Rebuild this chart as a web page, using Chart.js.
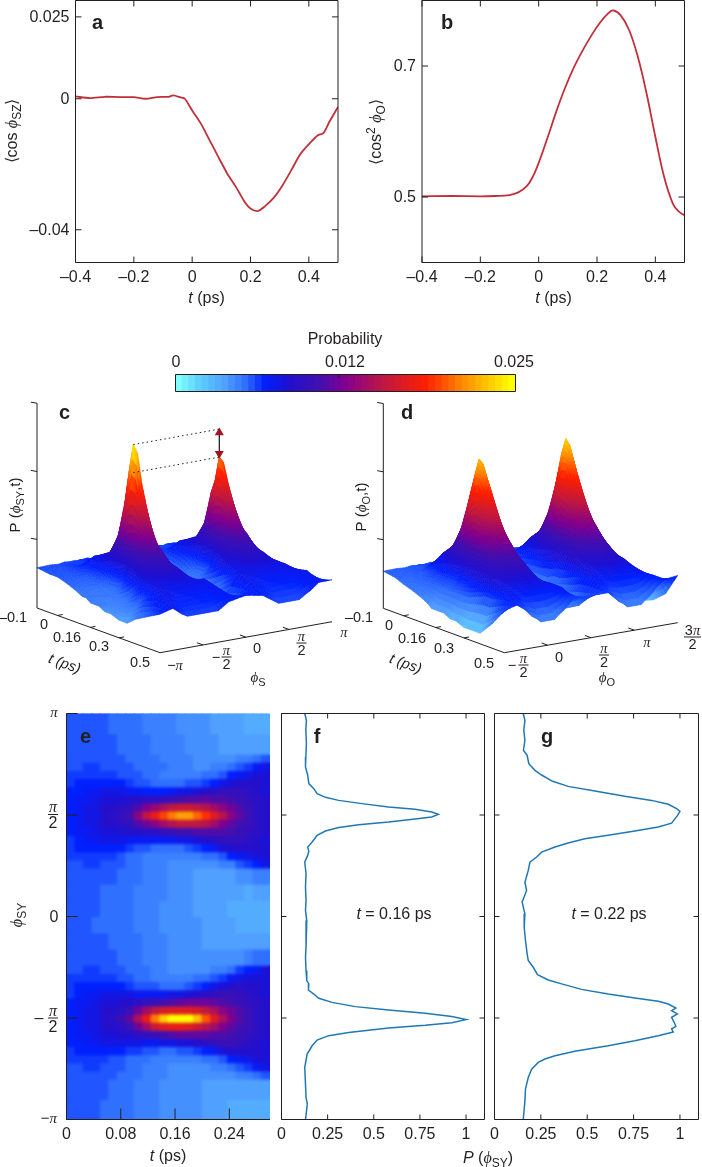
<!DOCTYPE html>
<html>
<head>
<meta charset="utf-8">
<style>
  html, body { margin: 0; padding: 0; background: #fff; }
  body { position: relative; width: 702px; height: 1167px; overflow: hidden; }
  canvas { position: absolute; }
</style>
<script src="https://cdn.jsdelivr.net/npm/chart.js@4"></script>
</head>
<body>
<script>
// panel a, b
const aTimes = [-0.4,-0.35,-0.3,-0.25,-0.2,-0.16,-0.12,-0.08,-0.065,-0.04,-0.025,0,0.03,0.06,0.09,0.12,0.15,0.18,0.2,0.225,0.25,0.28,0.31,0.34,0.37,0.4,0.43,0.45,0.47,0.5];
const aCos = [0.0007,0.0002,0.0006,0.0005,0.0005,0,0.0005,0.0006,0.001,0.0004,0,-0.0036,-0.0076,-0.0127,-0.0178,-0.0228,-0.0269,-0.0315,-0.0335,-0.0343,-0.0328,-0.0302,-0.0264,-0.0218,-0.017,-0.0139,-0.0112,-0.0105,-0.0071,-0.0025];
const bTimes = [-0.4,-0.3,-0.2,-0.15,-0.1,-0.07,-0.04,-0.02,0,0.03,0.06,0.09,0.12,0.15,0.18,0.21,0.24,0.255,0.28,0.31,0.34,0.37,0.4,0.43,0.46,0.48,0.5];
const bCos2 = [0.501,0.5015,0.501,0.5015,0.503,0.507,0.517,0.531,0.552,0.59,0.63,0.666,0.697,0.723,0.746,0.766,0.781,0.785,0.778,0.755,0.714,0.658,0.592,0.531,0.49,0.478,0.472];

// panel f, g: phi in units of pi
const fPhi = [1,0.967,0.918,0.852,0.786,0.737,0.696,0.655,0.63,0.605,0.587,0.572,0.556,0.539,0.528,0.515,0.503,0.49,0.48,0.465,0.452,0.438,0.421,0.4,0.367,0.342,0.322,0.301,0.268,0.211,0.145,0.079,0.03,-0.02,-0.086,-0.151,-0.201,-0.266,-0.316,-0.332,-0.362,-0.382,-0.403,-0.423,-0.444,-0.461,-0.477,-0.493,-0.508,-0.523,-0.536,-0.549,-0.571,-0.587,-0.609,-0.637,-0.678,-0.743,-0.826,-0.891,-0.924,-1];
const fProb = [0.126,0.135,0.132,0.135,0.132,0.13,0.142,0.148,0.175,0.193,0.238,0.31,0.436,0.58,0.724,0.814,0.85,0.814,0.724,0.58,0.418,0.31,0.238,0.193,0.166,0.142,0.148,0.142,0.126,0.133,0.13,0.133,0.13,0.137,0.133,0.133,0.13,0.133,0.137,0.148,0.146,0.175,0.202,0.274,0.4,0.58,0.778,0.923,1,0.923,0.778,0.58,0.364,0.256,0.193,0.166,0.139,0.126,0.13,0.133,0.14,0.13];
const gPhi = [1,0.967,0.918,0.868,0.819,0.794,0.753,0.72,0.697,0.666,0.641,0.618,0.592,0.572,0.553,0.531,0.518,0.498,0.46,0.441,0.421,0.4,0.383,0.362,0.342,0.317,0.293,0.268,0.227,0.169,0.128,0.071,0.013,-0.053,-0.118,-0.184,-0.217,-0.25,-0.286,-0.313,-0.332,-0.359,-0.382,-0.401,-0.418,-0.431,-0.451,-0.464,-0.48,-0.497,-0.52,-0.541,-0.553,-0.569,-0.587,-0.612,-0.637,-0.664,-0.686,-0.702,-0.719,-0.752,-0.793,-0.85,-0.908,-1];
const gProb = [0.155,0.164,0.158,0.164,0.156,0.176,0.185,0.218,0.254,0.313,0.397,0.541,0.703,0.847,0.937,0.982,1,0.987,0.955,0.883,0.757,0.613,0.487,0.397,0.326,0.254,0.227,0.191,0.182,0.164,0.173,0.149,0.164,0.16,0.167,0.176,0.182,0.209,0.232,0.29,0.362,0.469,0.613,0.757,0.883,0.937,0.978,0.955,0.986,0.955,0.968,0.978,0.955,0.964,0.883,0.757,0.613,0.433,0.326,0.272,0.236,0.2,0.182,0.167,0.164,0.155];

// probability is kept in units of 0.0005, so 50 = 0.025
const colorbarLevels = [0,1,2,3,4,5,6,7,8,9,10,11,12,13,14,15,16,17,18,19,20,21,22,23,24,25,26,27,28,29,30,31,32,33,34,35,36,37,38,39,40,41,42,43,44,45,46,47,48,49,50];

// panel e
const heatTimes = [0.006,0.019,0.031,0.044,0.056,0.069,0.081,0.094,0.106,0.119,0.131,0.144,0.156,0.169,0.181,0.194,0.206,0.219,0.231,0.244,0.256,0.269,0.281,0.294];
const heatPhiEdges = [1,0.9,0.8,0.76,0.72,0.68,0.64,0.6,0.56,0.52,0.48,0.44,0.4,0.36,0.32,0.28,0.24,0.16,0.08,0,-0.08,-0.16,-0.24,-0.28,-0.32,-0.36,-0.4,-0.44,-0.48,-0.52,-0.56,-0.6,-0.64,-0.68,-0.72,-0.76,-0.8,-0.9,-1];
const heatValues = [
  [11,11,11,11,11,10,10,10,10,9,9,9,9,8,8,8,8,7,7,7,7,6,6,6],
  [11,11,11,11,11,11,10,10,10,10,9,9,9,9,8,8,8,8,7,7,7,7,7,7],
  [11,11,11,11,11,11,11,10,10,10,10,9,9,9,9,8,8,8,8,8,9,9,10,11],
  [11,11,12,12,11,11,11,11,10,10,10,10,9,9,9,8,8,9,9,10,11,12,14,15],
  [12,12,12,12,12,12,11,11,11,10,10,9,9,9,9,9,10,10,11,13,14,15,16,16],
  [12,13,13,13,13,13,13,12,11,11,10,10,10,10,11,11,12,13,15,16,17,17,17,16],
  [13,13,14,14,15,15,15,14,14,13,13,13,14,15,15,16,17,18,19,19,19,18,17,16],
  [13,14,14,15,16,16,16,17,17,18,18,19,20,21,22,22,23,22,22,21,20,19,18,17],
  [13,14,15,15,17,17,18,19,22,25,27,29,31,32,32,31,30,28,26,24,22,20,18,17],
  [13,14,15,15,17,18,19,21,26,31,35,39,42,44,44,41,38,34,30,26,23,20,18,17],
  [13,14,15,15,17,17,18,19,22,24,26,28,30,31,31,31,30,28,25,23,21,20,18,17],
  [13,14,14,15,16,16,16,17,17,18,18,19,20,21,21,22,22,22,22,21,20,19,18,17],
  [12,13,14,14,15,15,15,14,14,14,14,14,14,15,15,16,17,18,19,19,19,18,17,16],
  [12,13,13,13,13,13,13,12,11,11,10,10,10,10,11,12,13,14,16,17,17,17,17,16],
  [12,12,12,12,12,12,11,10,10,9,9,9,9,9,9,9,10,10,11,13,14,15,16,16],
  [11,11,12,12,11,11,11,10,10,9,9,9,8,8,8,8,8,8,9,9,11,12,13,15],
  [11,11,11,11,11,11,10,10,10,9,9,9,8,8,8,7,7,7,7,7,8,8,9,9],
  [11,11,11,11,10,10,10,10,9,9,9,9,8,8,8,7,7,7,7,7,7,6,7,7],
  [11,11,11,11,10,10,10,10,9,9,9,8,8,8,8,7,7,7,7,6,6,6,6,6],
  [11,11,11,10,10,10,10,10,9,9,9,8,8,8,8,8,7,7,7,7,6,6,6,6],
  [11,11,11,11,11,10,10,10,10,9,9,9,8,8,8,8,7,7,7,7,7,7,7,7],
  [11,11,11,11,11,11,10,10,10,9,9,9,8,8,8,8,8,8,8,8,8,9,10,10],
  [11,11,12,12,11,11,11,10,10,10,9,9,8,8,8,8,8,9,9,10,12,13,14,16],
  [12,12,12,12,12,12,11,11,10,10,9,9,9,9,9,10,10,11,12,14,15,16,16,16],
  [12,13,13,13,13,13,13,12,11,11,11,10,10,10,11,12,13,15,16,17,18,17,17,16],
  [12,13,14,14,15,15,15,15,14,14,14,14,15,15,16,17,18,19,20,20,19,18,17,16],
  [13,14,14,15,16,16,17,17,18,19,20,21,22,23,24,24,24,23,22,21,20,19,18,17],
  [13,14,15,15,17,17,18,20,24,28,31,33,34,34,34,33,31,29,26,24,22,20,18,17],
  [13,14,15,15,17,18,20,23,29,35,42,47,50,50,50,46,40,34,29,25,22,20,18,17],
  [13,14,15,15,17,17,18,20,24,28,32,34,35,35,34,32,30,28,25,23,21,20,18,17],
  [13,14,14,15,16,16,17,17,18,19,20,21,22,23,23,23,23,22,22,21,20,19,18,17],
  [13,13,14,14,15,15,15,15,15,14,14,15,15,16,16,17,18,19,20,20,19,18,17,16],
  [12,13,13,13,13,13,13,12,12,11,11,10,10,11,11,12,13,14,16,17,17,17,17,16],
  [12,12,12,12,12,11,11,10,10,10,9,9,9,9,9,9,10,10,11,13,14,15,16,16],
  [11,11,12,12,11,11,11,10,10,9,9,9,8,8,8,8,8,9,9,10,11,12,14,15],
  [11,11,11,11,11,11,10,10,10,9,9,9,8,8,8,8,8,8,8,8,9,9,10,11],
  [11,11,11,11,11,10,10,10,9,9,9,8,8,8,8,8,7,7,7,7,7,7,7,7],
  [11,11,11,11,10,10,10,10,9,9,9,8,8,8,8,8,7,7,7,6,6,6,6,6]
];

// panel c, d surfaces
const surfTimes = [-0.1,-0.04,0,0.05,0.09,0.12,0.14,0.16,0.18,0.2,0.23,0.26,0.3,0.34,0.38,0.44,0.5];
const cPhi = [-1,-0.85,-0.75,-0.68,-0.62,-0.58,-0.54,-0.5,-0.46,-0.42,-0.38,-0.32,-0.2,0,0.2,0.32,0.38,0.42,0.46,0.5,0.54,0.58,0.62,0.68,0.75,0.85,1];
const cValues = [
  [11.5,11.6,11.4,11.7,11.5,11.6,11.4,11.6,11.5,11.7,11.4,11.6,11.5,11.6,11.4,11.7,11.5,11.6,11.3,11.6,11.5,11.6,11.4,11.7,11.5,11.6,11.4],
  [11,11,12,12,12,12,13,13,13,12,12,12,11,11,11,12,12,12,13,13,13,12,12,12,12,11,11],
  [11,11,12,13,14,15,15,15,15,15,14,13,11,11,11,13,14,15,15,15,15,15,14,13,12,11,11],
  [10,10,11,13,15,16,16,17,16,16,15,13,10,10,10,13,15,16,16,17,16,16,15,13,11,10,10],
  [9,9,10,12,15,17,20,23,20,17,15,12,9,9,9,12,15,17,19,22,19,17,15,12,10,9,9],
  [8,8,9,10,14,18,25,33,25,18,14,10,8,8,8,10,14,18,24,31,24,18,14,10,9,8,8],
  [8,8,8,10,14,20,30,42,30,20,14,10,8,8,8,10,14,20,28,35,28,20,14,10,8,8,8],
  [7,8,8,10,15,22,33,50,33,22,15,10,8,7,8,10,15,21,31,42,31,21,15,10,8,8,7],
  [7,7,8,11,16,23,33,48,33,23,16,11,8,7,8,11,16,22,31,41,31,22,16,11,8,7,7],
  [7,7,8,13,18,24,31,40,31,24,18,13,8,7,8,13,18,23,30,36,30,23,18,13,8,7,7],
  [6,7,9,15,20,23,28,32,28,23,20,15,8,6,8,15,20,23,27,30,27,23,20,15,9,7,6],
  [6,7,11,17,20,22,23,24,23,22,20,17,9,6,9,17,20,22,23,24,23,22,20,17,11,7,6],
  [5,8,14,17,18,19,20,20,20,19,18,17,11,5,11,17,18,19,20,20,20,19,18,17,14,8,5],
  [5,11,15,16,16,17,17,17,17,17,16,16,13,6,13,16,16,17,17,17,17,17,16,16,15,11,6],
  [7,13,15,15,15,15,15,15,15,15,15,15,15,8,15,15,15,15,15,15,15,15,15,15,15,13,8],
  [9,14,14,13,13,13,13,13,13,13,13,13,14,10,14,13,13,13,13,13,13,13,13,13,14,14,10],
  [11,12,10,9,9,9,9,9,9,9,9,9,11,12,11,9,8,8,8,8,8,8,8,9,10,12,12]
];
const cTint = [0,0,0,0,0,0,0,0,0,0,0,0,0,0,0,0.5,2];
const dPhi = [-0.5,-0.35,-0.25,-0.18,-0.12,-0.08,-0.04,0,0.04,0.08,0.12,0.18,0.3,0.5,0.7,0.82,0.88,0.92,0.96,1,1.04,1.08,1.12,1.18,1.25,1.35,1.5];
const dValues = [
  [10.6,10.7,10.5,10.8,10.6,10.7,10.5,10.6,10.8,10.5,10.7,10.6,10.8,10.5,10.7,10.6,10.5,10.7,10.6,10.8,10.6,10.5,10.7,10.6,10.8,10.6,10.7],
  [10,10,11,11,12,12,12,12,12,12,12,11,10,10,10,11,12,12,12,12,12,12,12,11,11,10,10],
  [9,10,11,13,14,15,16,16,16,15,14,13,10,9,10,13,14,15,16,16,16,15,14,13,11,10,9],
  [8,10,12,14,16,18,19,20,19,18,16,14,10,8,10,14,16,18,19,20,19,18,16,14,12,10,8],
  [7,10,12,15,18,22,25,27,25,22,18,15,10,7,10,15,18,22,25,27,25,22,18,15,12,10,7],
  [6,10,12,16,20,26,32,35,32,26,20,16,10,6,10,16,20,26,32,36,32,26,20,16,12,10,6],
  [5,10,12,16,22,29,37,41,37,29,22,16,10,6,10,16,22,29,37,43,37,29,22,16,12,10,5],
  [5,10,12,17,24,32,41,46,41,32,24,17,10,6,10,17,24,32,41,47.5,41,32,24,17,12,10,5],
  [5,10,13,18,25,33,41,45,41,33,25,18,10,5,10,18,25,33,41,46,41,33,25,18,13,10,5],
  [5,10,13,19,25,32,38,41,38,32,25,19,10,5,10,19,25,32,38,42,38,32,25,19,13,10,5],
  [4,10,14,19,25,29,33,35,33,29,25,19,11,5,11,19,25,29,33,35,33,29,25,19,14,10,4],
  [4,10,15,20,24,26,28,29,28,26,24,20,11,5,11,20,24,26,28,29,28,26,24,20,15,10,4],
  [3,11,16,19,21,22,23,23,23,22,21,19,12,5,12,19,21,22,23,23,23,22,21,19,16,11,3],
  [3,12,16,17,18,18,19,19,19,18,18,17,13,5,13,17,18,18,19,19,19,18,18,17,16,12,3],
  [3,12,15,15,15,15,16,16,16,15,15,15,14,6,14,15,15,15,16,16,16,15,15,15,15,12,4],
  [7,13,14,13,13,13,13,13,13,13,13,13,14,8,14,13,13,13,13,13,13,13,13,13,14,13,7],
  [12,13,11,9,8,7,7,7,7,7,8,9,12,12,12,9,8,7,7,7,7,7,8,9,11,13,13.5]
];
const dTint = [0,0,0,0,0,0,0,0,0,0,0,0,0,0,0,0,0];
const pTicks3d = [19.6, 39, 58.5];

const SANS = '"Liberation Sans", Arial, sans-serif';
const SERIF = '"Liberation Serif", "DejaVu Serif", serif';
const INK = "#231f20";
const RED = "#c1303a";
const BLUE = "#1f78b4";

const colorStops = [
  [0, 128, 255, 255], [0.06, 96, 208, 255], [0.14, 80, 160, 255], [0.2, 48, 112, 255],
  [0.26, 0, 32, 255], [0.33, 32, 16, 208], [0.42, 64, 16, 176], [0.5, 128, 0, 144],
  [0.62, 192, 24, 64], [0.745, 255, 32, 0], [0.86, 255, 144, 0], [1, 255, 255, 0]
];

function probColor(level) {
  const f = Math.min(1, Math.max(0, level / 50));
  let k = 0;
  while (k < colorStops.length - 2 && f > colorStops[k + 1][0]) k++;
  const a = colorStops[k], b = colorStops[k + 1];
  const w = (f - a[0]) / (b[0] - a[0]);
  const c = [1, 2, 3].map(i => Math.round(a[i] + (b[i] - a[i]) * w));
  return "rgb(" + c.join(",") + ")";
}

// low parts of the surfaces are shaded a bit deeper than their height
function surfaceShade(v) {
  if (v >= 11) return v;
  if (v >= 7) return 9 + (v - 7) * 0.5;
  if (v >= 4.5) return 6.5 + (v - 4.5) * 1;
  if (v >= 3) return 3.5 + (v - 3) * 2;
  return v;
}

// mixed text: n normal, i italic, g italic serif greek, s subscript, u superscript
function drawRuns(ctx, runs, x, y, size, rot) {
  const fontOf = kind => {
    if (kind === "g") return "italic " + size + "px " + SERIF;
    if (kind === "i") return "italic " + size + "px " + SANS;
    if (kind === "s" || kind === "u") return Math.round(size * 0.72) + "px " + SANS;
    if (kind === "b") return "bold " + size + "px " + SANS;
    return size + "px " + SANS;
  };
  ctx.save();
  ctx.translate(x, y);
  ctx.rotate(rot || 0);
  ctx.textAlign = "left";
  ctx.textBaseline = "alphabetic";
  ctx.fillStyle = INK;
  let width = 0;
  runs.forEach(r => { ctx.font = fontOf(r[1]); width += ctx.measureText(r[0]).width; });
  let cur = -width / 2;
  runs.forEach(r => {
    ctx.font = fontOf(r[1]);
    const dy = r[1] === "s" ? size * 0.25 : r[1] === "u" ? -size * 0.4 : 0;
    ctx.fillText(r[0], cur, dy);
    cur += ctx.measureText(r[0]).width;
  });
  ctx.restore();
}

function drawFrac(ctx, x, y, num, den, size, barWidth) {
  ctx.save();
  ctx.strokeStyle = INK;
  ctx.lineWidth = 1;
  ctx.beginPath();
  ctx.moveTo(x - barWidth / 2, y);
  ctx.lineTo(x + barWidth / 2, y);
  ctx.stroke();
  ctx.restore();
  drawRuns(ctx, num, x, y - 2.5, size);
  drawRuns(ctx, [[den, "n"]], x, y + size * 0.85, size);
}

function addChart(box, plot, config, notes) {
  const canvas = document.createElement("canvas");
  canvas.width = box.r - box.l;
  canvas.height = box.b - box.t;
  canvas.style.left = box.l + "px";
  canvas.style.top = box.t + "px";
  document.body.appendChild(canvas);
  config.options = config.options || {};
  config.options.responsive = false;
  config.options.animation = false;
  config.options.events = [];
  config.options.layout = { autoPadding: false, padding: { top: plot.t - box.t, right: box.r - plot.r, left: 0, bottom: 0 } };
  config.options.plugins = Object.assign({ legend: { display: false }, tooltip: { enabled: false } }, config.options.plugins);
  config.plugins = (config.plugins || []).concat([{
    id: "notes",
    afterDraw(chart) {
      const ctx = chart.ctx;
      ctx.save();
      ctx.translate(-box.l, -box.t);
      notes(ctx);
      ctx.restore();
    }
  }]);
  return new Chart(canvas, config);
}

function framePlugin(opts) {
  return {
    id: "frame",
    afterDraw(chart) {
      const { ctx, chartArea: a, scales } = chart;
      const sides = opts.sides || "lrtb";
      const len = opts.tick || 5;
      ctx.save();
      ctx.strokeStyle = INK;
      ctx.lineWidth = 1;
      ctx.beginPath();
      if (sides.includes("l")) { ctx.moveTo(a.left, a.top); ctx.lineTo(a.left, a.bottom); }
      if (sides.includes("r")) { ctx.moveTo(a.right, a.top); ctx.lineTo(a.right, a.bottom); }
      if (sides.includes("t")) { ctx.moveTo(a.left, a.top); ctx.lineTo(a.right, a.top); }
      if (sides.includes("b")) { ctx.moveTo(a.left, a.bottom); ctx.lineTo(a.right, a.bottom); }
      (opts.xTicks || []).forEach(v => {
        const px = scales.x.getPixelForValue(v);
        if (sides.includes("b")) { ctx.moveTo(px, a.bottom); ctx.lineTo(px, a.bottom - len); }
        if (sides.includes("t")) { ctx.moveTo(px, a.top); ctx.lineTo(px, a.top + len); }
      });
      (opts.yTicks || []).forEach(v => {
        const py = scales.y.getPixelForValue(v);
        if (sides.includes("l")) { ctx.moveTo(a.left, py); ctx.lineTo(a.left + len, py); }
        if (sides.includes("r")) { ctx.moveTo(a.right, py); ctx.lineTo(a.right - len, py); }
      });
      ctx.stroke();
      ctx.restore();
    }
  };
}

function linearAxis(min, max, tickValues, fitSize, horizontal, showLabels, padding) {
  return {
    type: "linear",
    min: min,
    max: max,
    offset: false,
    grid: { display: false, drawTicks: false, offset: false },
    border: { display: false },
    afterBuildTicks: s => { s.ticks = tickValues.map(v => ({ value: v })); },
    afterFit: s => {
      if (horizontal) { s.height = fitSize; s.paddingLeft = 0; s.paddingRight = 0; }
      else { s.width = fitSize; s.paddingTop = 0; s.paddingBottom = 0; }
    },
    ticks: {
      display: showLabels,
      autoSkip: false,
      maxRotation: 0,
      padding: padding,
      labelOffset: horizontal ? 0 : 1,
      color: INK,
      font: { family: SANS, size: 16 },
      callback: v => (v < 0 ? "\u2013" + Math.abs(v) : String(v))
    }
  };
}

function curveChart(box, plot, xs, ys, range, ticks, color, notes) {
  const points = xs.map((x, i) => ({ x: x, y: ys[i] }));
  return addChart(box, plot, {
    type: "scatter",
    data: { datasets: [{ data: points, showLine: true, pointRadius: 0, borderColor: color, borderWidth: range.width || 1.5, tension: range.tension || 0 }] },
    options: {
      scales: {
        x: linearAxis(range.x[0], range.x[1], ticks.x, box.b - plot.b, true, true, 5),
        y: linearAxis(range.y[0], range.y[1], ticks.y, plot.l - box.l, false, !!ticks.yLabels, 6)
      }
    },
    plugins: [framePlugin({ xTicks: ticks.x, yTicks: ticks.y, tick: ticks.len })]
  }, notes);
}

const tTicks = [-0.4, -0.2, 0, 0.2, 0.4];

curveChart({ l: 0, t: 0, r: 351, b: 315 }, { l: 75.5, t: 0.5, r: 338, b: 262.5 }, aTimes, aCos,
  { x: [-0.4, 0.5], y: [-0.05, 0.03], tension: 0.25, width: 1.8 }, { x: tTicks, y: [0.025, 0, -0.04], yLabels: true, len: 6 }, RED, ctx => {
    drawRuns(ctx, [["a", "b"]], 97.5, 29, 20);
    drawRuns(ctx, [["t", "i"], [" (ps)", "n"]], 206.5, 303, 16);
    drawRuns(ctx, [["\u27e8cos ", "n"], ["\u03d5", "g"], ["SZ", "s"], ["\u27e9", "n"]], 17, 131, 16, -Math.PI / 2);
  });

curveChart({ l: 351, t: 0, r: 702, b: 315 }, { l: 422, t: 0.5, r: 684.5, b: 262.5 }, bTimes, bCos2,
  { x: [-0.4, 0.5], y: [0.4, 0.8], tension: 0.4, width: 1.8 }, { x: tTicks, y: [0.7, 0.5], yLabels: true, len: 6 }, RED, ctx => {
    drawRuns(ctx, [["b", "b"]], 447, 29, 20);
    drawRuns(ctx, [["t", "i"], [" (ps)", "n"]], 553.5, 303, 16);
    drawRuns(ctx, [["\u27e8cos", "n"], ["2", "u"], [" ", "n"], ["\u03d5", "g"], ["O", "s"], ["\u27e9", "n"]], 381, 132, 16, -Math.PI / 2);
  });

// colour bar
addChart({ l: 165, t: 330, r: 540, b: 398 }, { l: 175.5, t: 374.5, r: 515.5, b: 391.5 }, {
  type: "bar",
  data: {
    labels: colorbarLevels,
    datasets: [{
      data: colorbarLevels.map(() => 1),
      backgroundColor: colorbarLevels.map(probColor),
      barPercentage: 1,
      categoryPercentage: 1,
      inflateAmount: 0.6
    }]
  },
  options: {
    scales: {
      x: { type: "category", grid: { display: false, drawTicks: false }, border: { display: false }, ticks: { display: false }, afterFit: s => { s.height = 398 - 391.5; s.paddingLeft = 0; s.paddingRight = 0; } },
      y: { min: 0, max: 1, grid: { display: false, drawTicks: false }, border: { display: false }, ticks: { display: false }, afterFit: s => { s.width = 175.5 - 165; } }
    }
  },
  plugins: [framePlugin({})]
}, ctx => {
  drawRuns(ctx, [["Probability", "n"]], 345, 344, 16);
  drawRuns(ctx, [["0", "n"]], 176, 367, 16);
  drawRuns(ctx, [["0.012", "n"]], 345, 367, 16);
  drawRuns(ctx, [["0.025", "n"]], 514, 367, 16);
  ctx.strokeStyle = INK;
  ctx.beginPath();
  ctx.moveTo(339, 374.5);
  ctx.lineTo(339, 378);
  ctx.stroke();
});

// soft edge like the printed figure, heat cells only
function softenPlugin(radius) {
  return {
    id: "soften",
    afterDatasetsDraw(chart) {
      const { ctx, canvas, chartArea: a } = chart;
      ctx.save();
      ctx.beginPath();
      ctx.rect(a.left, a.top, a.right - a.left, a.bottom - a.top);
      ctx.clip();
      ctx.filter = "blur(" + radius + "px)";
      ctx.drawImage(canvas, 0, 0);
      ctx.restore();
    }
  };
}

// surfaces: one hidden line of points per time slice, quads are painted between neighbours
const surfacePlugin = {
  id: "surface",
  beforeDatasetsDraw(chart) {
    const ctx = chart.ctx;
    const rows = chart.data.datasets.map((d, i) => ({ d: d, pts: chart.getDatasetMeta(i).data })).filter(r => r.d.values);
    const n = 4;
    const shade = (r, j) => surfaceShade(r.d.values[j]) + r.d.tint;
    const vert = (r0, r1, j, u, v) => {
      const a = r0.pts[j], b = r0.pts[j + 1], c = r1.pts[j], e = r1.pts[j + 1];
      return {
        x: (a.x * (1 - v) + b.x * v) * (1 - u) + (c.x * (1 - v) + e.x * v) * u,
        y: (a.y * (1 - v) + b.y * v) * (1 - u) + (c.y * (1 - v) + e.y * v) * u,
        p: (shade(r0, j) * (1 - v) + shade(r0, j + 1) * v) * (1 - u) + (shade(r1, j) * (1 - v) + shade(r1, j + 1) * v) * u
      };
    };
    ctx.save();
    ctx.lineWidth = 0.6;
    ctx.lineJoin = "round";
    for (let i = 0; i < rows.length - 1; i++) {
      for (let j = rows[i].pts.length - 2; j >= 0; j--) {
        for (let a = 0; a < n; a++) {
          for (let b = n - 1; b >= 0; b--) {
            const q = [vert(rows[i], rows[i + 1], j, a / n, b / n), vert(rows[i], rows[i + 1], j, a / n, (b + 1) / n),
              vert(rows[i], rows[i + 1], j, (a + 1) / n, (b + 1) / n), vert(rows[i], rows[i + 1], j, (a + 1) / n, b / n)];
            const color = probColor((q[0].p + q[1].p + q[2].p + q[3].p) / 4);
            ctx.fillStyle = color;
            ctx.strokeStyle = color;
            ctx.beginPath();
            q.forEach((p, k) => (k ? ctx.lineTo(p.x, p.y) : ctx.moveTo(p.x, p.y)));
            ctx.closePath();
            ctx.fill();
            ctx.stroke();
          }
        }
      }
    }
    ctx.restore();
  }
};

function surfaceChart(box, phi, values, tint, geo, extra, notes) {
  const tSpan = surfTimes[surfTimes.length - 1] - surfTimes[0];
  const phiSpan = phi[phi.length - 1] - phi[0];
  const project = (t, p, z) => {
    const ft = (t - surfTimes[0]) / tSpan;
    const fp = (p - phi[0]) / phiSpan;
    return { x: geo.x0 + ft * geo.tVec[0] + fp * geo.phiVec[0], y: geo.y0 + ft * geo.tVec[1] + fp * geo.phiVec[1] - z * geo.zScale };
  };
  const seg = (from, to, width, dash) => ({ data: [from, to], showLine: true, pointRadius: 0, borderColor: INK, borderWidth: width || 1, borderDash: dash || [] });
  const tEnd = surfTimes[surfTimes.length - 1];
  const t0 = surfTimes[0];
  const pMin = phi[0];
  const pMax = phi[phi.length - 1];
  const datasets = surfTimes.map((t, i) => ({
    values: values[i],
    tint: tint[i],
    data: phi.map((p, j) => project(t, p, values[i][j])),
    pointRadius: 0,
    showLine: false
  }));
  datasets.push(seg(project(t0, pMin, 0), project(t0, pMin, pTicks3d[2])));
  datasets.push(seg(project(t0, pMin, 0), project(tEnd, pMin, 0)));
  datasets.push(seg(project(tEnd, pMin, 0), project(tEnd, pMax, 0)));
  pTicks3d.forEach(z => datasets.push(seg(project(t0, pMin, z), project(t0 - 0.02, pMin - phiSpan * 0.012, z))));
  geo.tTicks.forEach(t => datasets.push(seg(project(t, pMin, 0), project(t, pMin + phiSpan * 0.03, 0))));
  geo.phiTicks.forEach(p => datasets.push(seg(project(tEnd, p, 0), project(tEnd - 0.03, p, 0))));
  if (extra) extra(project, seg).forEach(d => datasets.push(d));
  return addChart(box, { l: box.l, t: box.t, r: box.r, b: box.b }, {
    type: "scatter",
    data: { datasets: datasets },
    options: {
      scales: {
        x: { type: "linear", min: box.l, max: box.r, display: false },
        y: { type: "linear", min: box.t, max: box.b, reverse: true, display: false }
      }
    },
    plugins: [surfacePlugin]
  }, notes);
}

surfaceChart({ l: 0, t: 398, r: 351, b: 690 }, cPhi, cValues, cTint,
  { x0: 37, y0: 608, tVec: [123, 44.7], phiVec: [172, -31], zScale: 3.5, tTicks: [0, 0.16, 0.3], phiTicks: [-0.5, 0, 0.5] },
  (project, seg) => {
    return [
      seg(project(0.16, -0.5, 50), project(0.16, 0.5, 50), 1, [1.5, 3]),
      seg(project(0.16, -0.5, 42), project(0.16, 0.5, 42), 1, [1.5, 3]),
      {
        data: [project(0.16, 0.5, 49), project(0.16, 0.5, 43)],
        showLine: true,
        borderColor: "#111",
        borderWidth: 1.2,
        pointStyle: "triangle",
        pointRadius: 4,
        pointRotation: [0, 180],
        pointBackgroundColor: "#a5121f",
        pointBorderColor: "#a5121f"
      }
    ];
  }, ctx => {
    drawRuns(ctx, [["c", "b"]], 64.5, 419, 20);
    drawRuns(ctx, [["P (", "n"], ["\u03d5", "g"], ["SY", "s"], [",t)", "n"]], 20, 505, 15, -Math.PI / 2);
    drawRuns(ctx, [["\u20130.1", "n"]], 13, 622, 14.5);
    drawRuns(ctx, [["0", "n"]], 44, 629, 14.5);
    drawRuns(ctx, [["0.16", "n"]], 67, 642, 14.5);
    drawRuns(ctx, [["0.3", "n"]], 99, 651, 14.5);
    drawRuns(ctx, [["0.5", "n"]], 140, 667, 14.5);
    drawRuns(ctx, [["t (ps)", "i"]], 63, 668, 14.5, 0.35);
    drawRuns(ctx, [["\u2212", "n"], ["\u03c0", "g"]], 175, 670, 14.5);
    drawRuns(ctx, [["\u2212", "n"]], 216, 662, 14.5);
    drawFrac(ctx, 226.5, 657, [["\u03c0", "g"]], "2", 14.5, 10);
    drawRuns(ctx, [["0", "n"]], 257, 653, 14.5);
    drawFrac(ctx, 301.5, 643, [["\u03c0", "g"]], "2", 14.5, 10);
    drawRuns(ctx, [["\u03c0", "g"]], 344, 637, 14.5);
    drawRuns(ctx, [["\u03d5", "g"], ["S", "s"]], 258, 682, 15);
  });

surfaceChart({ l: 340, t: 398, r: 702, b: 690 }, dPhi, dValues, dTint,
  { x0: 383.3, y0: 608.3, tVec: [121, 44.4], phiVec: [173.4, -30], zScale: 3.5, tTicks: [0, 0.16, 0.3], phiTicks: [0, 0.5, 1] },
  null, ctx => {
    drawRuns(ctx, [["d", "b"]], 407, 419, 20);
    drawRuns(ctx, [["P (", "n"], ["\u03d5", "g"], ["O", "s"], [",t)", "n"]], 366, 507, 15, -Math.PI / 2);
    drawRuns(ctx, [["\u20130.1", "n"]], 359, 622, 14.5);
    drawRuns(ctx, [["0", "n"]], 389, 630, 14.5);
    drawRuns(ctx, [["0.16", "n"]], 412, 643, 14.5);
    drawRuns(ctx, [["0.3", "n"]], 444, 653, 14.5);
    drawRuns(ctx, [["0.5", "n"]], 484, 668, 14.5);
    drawRuns(ctx, [["t (ps)", "i"]], 404, 668, 14.5, 0.35);
    drawRuns(ctx, [["\u2212", "n"]], 512, 670, 14.5);
    drawFrac(ctx, 523.5, 665, [["\u03c0", "g"]], "2", 14.5, 10);
    drawRuns(ctx, [["0", "n"]], 559, 662, 14.5);
    drawFrac(ctx, 604, 655, [["\u03c0", "g"]], "2", 14.5, 10);
    drawRuns(ctx, [["\u03c0", "g"]], 647, 647, 14.5);
    drawFrac(ctx, 692.5, 637, [["3", "n"], ["\u03c0", "g"]], "2", 14.5, 17);
    drawRuns(ctx, [["\u03d5", "g"], ["O", "s"]], 607, 682, 15);
  });

// heat map: one floating bar series per phi row
const eBox = { l: 0, t: 705, r: 278, b: 1167 };
const ePlot = { l: 66.5, t: 713.5, r: 270, b: 1119.5 };
const eXTicks = [0, 0.08, 0.16, 0.24];
const phiTicks = [-1, -0.5, 0, 0.5, 1];
addChart(eBox, ePlot, {
  type: "bar",
  data: {
    labels: heatTimes,
    datasets: heatValues.map((row, r) => ({
      xAxisID: "xcell",
      data: row.map(() => [heatPhiEdges[r + 1], heatPhiEdges[r]]),
      backgroundColor: row.map(probColor),
      grouped: false,
      barPercentage: 1,
      categoryPercentage: 1,
      inflateAmount: 0.6
    }))
  },
  options: {
    scales: {
      xcell: { axis: "x", type: "category", labels: heatTimes, offset: true, display: false },
      x: linearAxis(0, 0.3, eXTicks, eBox.b - ePlot.b, true, true, 5),
      y: linearAxis(-1, 1, phiTicks, ePlot.l - eBox.l, false, false, 0)
    }
  },
  plugins: [softenPlugin(1.6), framePlugin({ sides: "lb", xTicks: eXTicks, yTicks: phiTicks, tick: 11 })]
}, ctx => {
  drawRuns(ctx, [["e", "b"]], 85.5, 743, 20);
  drawRuns(ctx, [["\u03d5", "g"], ["SY", "s"]], 22, 915, 16, -Math.PI / 2);
  drawRuns(ctx, [["t", "i"], [" (ps)", "n"]], 168, 1161, 16);
  drawRuns(ctx, [["\u03c0", "g"]], 54, 717, 15);
  drawFrac(ctx, 53, 814.5, [["\u03c0", "g"]], "2", 16, 10);
  drawRuns(ctx, [["0", "n"]], 54, 921.5, 16);
  drawRuns(ctx, [["\u2013", "n"]], 39, 1022.5, 16);
  drawFrac(ctx, 53, 1018, [["\u03c0", "g"]], "2", 16, 10);
  drawRuns(ctx, [["\u2212", "n"], ["\u03c0", "g"]], 49, 1123, 15);
});

const pTicks = [0, 0.25, 0.5, 0.75, 1];
curveChart({ l: 272, t: 705, r: 490, b: 1167 }, { l: 281.5, t: 713.5, r: 484.5, b: 1119.5 }, fProb, fPhi,
  { x: [0, 1.1], y: [-1, 1] }, { x: pTicks, y: [-0.5, 0, 0.5], yLabels: false, len: 5 }, BLUE, ctx => {
    drawRuns(ctx, [["f", "b"]], 317, 743, 20);
    drawRuns(ctx, [["t", "i"], [" = 0.16 ps", "n"]], 394, 919, 16);
  });

curveChart({ l: 440, t: 705, r: 702, b: 1167 }, { l: 494.5, t: 713.5, r: 698.5, b: 1119.5 }, gProb, gPhi,
  { x: [0, 1.1], y: [-1, 1] }, { x: pTicks, y: [-0.5, 0, 0.5], yLabels: false, len: 5 }, BLUE, ctx => {
    drawRuns(ctx, [["g", "b"]], 547, 743, 20);
    drawRuns(ctx, [["t", "i"], [" = 0.22 ps", "n"]], 609, 919, 16);
    drawRuns(ctx, [["P", "i"], [" (", "n"], ["\u03d5", "g"], ["SY", "s"], [")", "n"]], 488, 1163, 16);
  });
</script>
</body>
</html>
